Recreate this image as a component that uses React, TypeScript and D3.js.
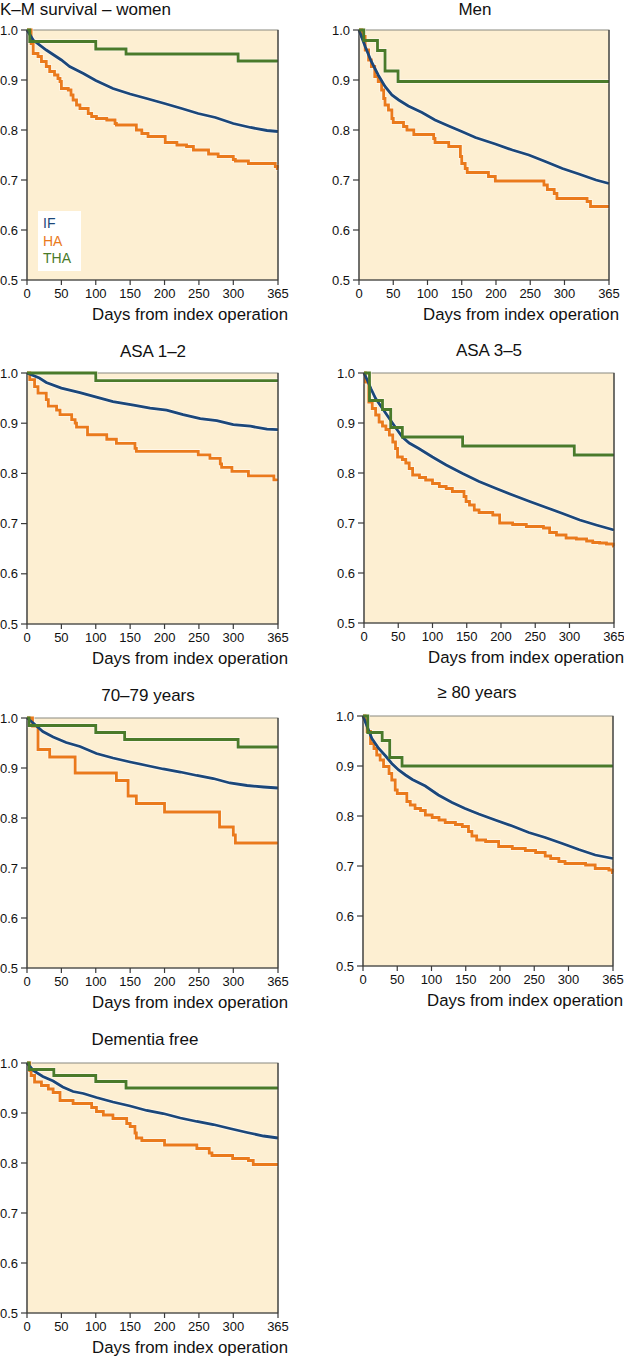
import React from "react";
import * as d3 from "d3";

type Pt = [number, number];

// ---- tick labels ----
const xTicks = [0, 50, 100, 150, 200, 250, 300, 365];
const yTicks = [0.5, 0.6, 0.7, 0.8, 0.9, 1.0];
const seriesNames = ["IF", "HA", "THA"];
const panelTitles = ["K–M survival – women", "Men", "ASA 1–2", "ASA 3–5", "70–79 years", "≥ 80 years", "Dementia free"];
const xAxisTitle = "Days from index operation";

// ---- data: [day, survival] ----
const womenIF: Pt[] = [[0,1],[9,0.98],[28,0.96],[50,0.94],[62,0.927],[82,0.913],[100,0.899],[125,0.883],[150,0.872],[174,0.863],[200,0.853],[225,0.843],[249,0.833],[274,0.825],[300,0.813],[325,0.805],[349,0.799],[365,0.797]];
const womenHA: Pt[] = [[0,1],[6,0.973],[9,0.953],[16,0.947],[21,0.937],[28,0.927],[33,0.917],[40,0.91],[45,0.903],[48,0.897],[50,0.883],[60,0.88],[64,0.87],[67,0.86],[72,0.85],[77,0.843],[89,0.833],[94,0.827],[101,0.823],[116,0.82],[128,0.813],[130,0.81],[159,0.8],[167,0.793],[176,0.787],[201,0.775],[218,0.77],[232,0.767],[242,0.76],[264,0.752],[278,0.747],[300,0.741],[303,0.738],[322,0.733],[361,0.727],[364,0.723],[365,0.723]];
const womenTHA: Pt[] = [[0,1],[4,0.977],[100,0.962],[144,0.952],[307,0.938],[365,0.938]];

const menIF: Pt[] = [[0,1],[9,0.967],[18,0.937],[28,0.91],[38,0.887],[48,0.87],[58,0.86],[72,0.848],[92,0.835],[111,0.82],[131,0.808],[150,0.797],[170,0.785],[199,0.772],[224,0.76],[248,0.75],[272,0.737],[297,0.723],[321,0.712],[346,0.7],[365,0.693]];
const menHA: Pt[] = [[0,1],[4,0.987],[9,0.96],[14,0.94],[18,0.927],[23,0.907],[28,0.897],[33,0.88],[36,0.863],[38,0.85],[43,0.84],[48,0.823],[50,0.815],[65,0.807],[70,0.8],[80,0.791],[109,0.783],[111,0.775],[131,0.767],[148,0.747],[150,0.733],[155,0.723],[158,0.715],[189,0.707],[199,0.698],[270,0.69],[275,0.681],[285,0.673],[289,0.663],[333,0.657],[338,0.647],[365,0.647]];
const menTHA: Pt[] = [[0,1],[7,0.979],[27,0.959],[38,0.918],[57,0.897],[365,0.897]];

const asa12IF: Pt[] = [[0,1],[18,0.99],[28,0.981],[50,0.97],[77,0.961],[101,0.952],[125,0.943],[155,0.936],[179,0.93],[203,0.926],[227,0.917],[252,0.909],[276,0.905],[300,0.897],[325,0.894],[349,0.888],[365,0.887]];
const asa12HA: Pt[] = [[0,1],[4,0.987],[11,0.973],[16,0.96],[28,0.947],[31,0.934],[43,0.926],[48,0.917],[65,0.907],[70,0.9],[72,0.892],[88,0.877],[116,0.868],[130,0.86],[157,0.85],[159,0.844],[249,0.837],[266,0.83],[281,0.819],[283,0.812],[298,0.804],[322,0.795],[359,0.787],[365,0.787]];
const asa12THA: Pt[] = [[0,1],[100,0.985],[365,0.985]];

const asa35IF: Pt[] = [[0,1],[5,0.985],[10,0.969],[17,0.949],[27,0.929],[37,0.909],[46,0.891],[56,0.872],[66,0.86],[80,0.849],[100,0.832],[120,0.816],[144,0.799],[168,0.783],[193,0.769],[217,0.756],[242,0.743],[266,0.731],[290,0.719],[315,0.706],[339,0.696],[365,0.686]];
const asa35HA: Pt[] = [[0,1],[2,0.982],[7,0.942],[12,0.929],[17,0.916],[22,0.902],[27,0.894],[32,0.887],[37,0.876],[42,0.862],[46,0.849],[49,0.832],[56,0.827],[61,0.82],[66,0.809],[71,0.796],[81,0.791],[90,0.786],[100,0.779],[110,0.773],[120,0.769],[129,0.763],[146,0.753],[149,0.743],[154,0.736],[161,0.726],[168,0.721],[188,0.716],[198,0.7],[217,0.697],[237,0.693],[262,0.69],[271,0.681],[281,0.676],[295,0.67],[310,0.668],[325,0.664],[334,0.661],[344,0.66],[354,0.658],[364,0.654],[365,0.654]];
const asa35THA: Pt[] = [[0,1],[8,0.945],[27,0.927],[39,0.891],[56,0.872],[144,0.854],[307,0.836],[365,0.836]];

const age7079IF: Pt[] = [[0,1],[9,0.99],[23,0.973],[38,0.962],[57,0.951],[77,0.943],[101,0.929],[125,0.92],[150,0.912],[174,0.905],[198,0.898],[223,0.892],[247,0.885],[271,0.879],[295,0.87],[320,0.865],[344,0.862],[365,0.86]];
const age7079HA: Pt[] = [[0,1],[8,0.984],[16,0.937],[33,0.922],[70,0.89],[130,0.875],[147,0.844],[159,0.829],[200,0.812],[280,0.782],[300,0.766],[303,0.75],[365,0.75]];
const age7079THA: Pt[] = [[0,1],[3,0.985],[100,0.971],[142,0.957],[307,0.942],[365,0.942]];

const age80IF: Pt[] = [[0,1],[6,0.979],[13,0.955],[23,0.935],[33,0.92],[42,0.905],[52,0.892],[62,0.882],[72,0.873],[91,0.86],[110,0.842],[130,0.827],[149,0.815],[169,0.804],[193,0.792],[218,0.78],[242,0.767],[266,0.757],[291,0.745],[315,0.733],[339,0.722],[365,0.715]];
const age80HA: Pt[] = [[0,1],[3,0.992],[6,0.969],[11,0.945],[16,0.935],[20,0.922],[25,0.912],[30,0.899],[38,0.885],[42,0.872],[47,0.852],[50,0.845],[64,0.829],[69,0.822],[76,0.815],[84,0.811],[91,0.802],[101,0.797],[111,0.792],[120,0.787],[135,0.783],[145,0.779],[154,0.769],[159,0.76],[166,0.752],[179,0.749],[198,0.739],[218,0.735],[237,0.731],[252,0.727],[266,0.72],[274,0.715],[286,0.709],[295,0.705],[325,0.702],[339,0.695],[359,0.692],[364,0.687],[365,0.687]];
const age80THA: Pt[] = [[0,1],[7,0.967],[28,0.951],[39,0.917],[57,0.9],[365,0.9]];

const dementiaIF: Pt[] = [[0,1],[9,0.985],[23,0.973],[38,0.964],[52,0.952],[67,0.943],[82,0.939],[101,0.931],[125,0.922],[150,0.914],[174,0.905],[198,0.899],[223,0.89],[247,0.883],[271,0.877],[295,0.869],[320,0.861],[344,0.854],[365,0.85]];
const dementiaHA: Pt[] = [[0,1],[4,0.985],[6,0.975],[11,0.962],[21,0.955],[31,0.948],[38,0.941],[48,0.925],[67,0.919],[94,0.911],[101,0.903],[111,0.896],[125,0.889],[145,0.879],[150,0.873],[157,0.86],[159,0.85],[167,0.845],[200,0.836],[247,0.829],[265,0.82],[269,0.815],[299,0.809],[322,0.805],[329,0.797],[365,0.797]];
const dementiaTHA: Pt[] = [[0,1],[3,0.987],[39,0.975],[100,0.963],[144,0.95],[365,0.95]];

const COLORS = { IF: "#1b477a", HA: "#ea7a1c", THA: "#4a7a2a" };
const FONT = "'Liberation Sans', Arial, Helvetica, sans-serif";

type PanelSpec = {
  title: string;
  titleX: number; titleY: number; titleAnchor: "start" | "middle";
  L: number; R: number; T: number; B: number;
  IF: Pt[]; HA: Pt[]; THA: Pt[];
  legend?: boolean;
};

const panels: PanelSpec[] = [
  { title: panelTitles[0], titleX: 0, titleY: 15, titleAnchor: "start", L: 27, R: 278, T: 30, B: 280, IF: womenIF, HA: womenHA, THA: womenTHA, legend: true },
  { title: panelTitles[1], titleX: 475, titleY: 15, titleAnchor: "middle", L: 359, R: 609, T: 30, B: 280, IF: menIF, HA: menHA, THA: menTHA },
  { title: panelTitles[2], titleX: 153, titleY: 357, titleAnchor: "middle", L: 27, R: 278, T: 373, B: 624, IF: asa12IF, HA: asa12HA, THA: asa12THA },
  { title: panelTitles[3], titleX: 489, titleY: 356, titleAnchor: "middle", L: 364, R: 614, T: 373, B: 623, IF: asa35IF, HA: asa35HA, THA: asa35THA },
  { title: panelTitles[4], titleX: 148, titleY: 701, titleAnchor: "middle", L: 27, R: 278, T: 718, B: 968, IF: age7079IF, HA: age7079HA, THA: age7079THA },
  { title: panelTitles[5], titleX: 477, titleY: 698, titleAnchor: "middle", L: 363, R: 613, T: 716, B: 966, IF: age80IF, HA: age80HA, THA: age80THA },
  { title: panelTitles[6], titleX: 145, titleY: 1045, titleAnchor: "middle", L: 27, R: 278, T: 1063, B: 1313, IF: dementiaIF, HA: dementiaHA, THA: dementiaTHA },
];

function Panel({ p }: { p: PanelSpec }) {
  const x = d3.scaleLinear().domain([0, 365]).range([p.L, p.R]);
  const y = d3.scaleLinear().domain([0.5, 1.0]).range([p.B, p.T]);
  const smooth = d3.line<Pt>().x(d => x(d[0])).y(d => y(d[1])).curve(d3.curveLinear);
  const step = d3.line<Pt>().x(d => x(d[0])).y(d => y(d[1])).curve(d3.curveStepAfter);
  const series: { key: "IF" | "HA" | "THA"; path: string }[] = [
    { key: "HA", path: step(p.HA) || "" },
    { key: "IF", path: smooth(p.IF) || "" },
    { key: "THA", path: step(p.THA) || "" },
  ];
  return (
    <g>
      <text x={p.titleX} y={p.titleY} textAnchor={p.titleAnchor} fontSize={17} fontFamily={FONT} fill="#111">{p.title}</text>
      <rect x={p.L} y={p.T} width={p.R - p.L} height={p.B - p.T} fill="#FDEFD2" stroke="#8a8a80" strokeWidth={1} />
      {series.map(s => (
        <path key={s.key + "h"} d={s.path} fill="none" stroke="#fffaf0" strokeWidth={4.4} strokeOpacity={0.75} />
      ))}
      {series.map(s => (
        <path key={s.key} d={s.path} fill="none" stroke={COLORS[s.key]} strokeWidth={2.8} />
      ))}
      <line x1={p.L} x2={p.L} y1={p.T} y2={p.B} stroke="#3a3a3a" strokeWidth={1.2} />
      <line x1={p.R} x2={p.R} y1={p.T} y2={p.B} stroke="#3a3a3a" strokeWidth={1.2} />
      <line x1={p.L} x2={p.R} y1={p.B} y2={p.B} stroke="#3a3a3a" strokeWidth={1.2} />
      {yTicks.map(t => (
        <g key={"y" + t}>
          <line x1={p.L - 6} x2={p.L} y1={y(t)} y2={y(t)} stroke="#3a3a3a" strokeWidth={1.2} />
          <text x={p.L - 9} y={y(t) + 4.5} textAnchor="end" fontSize={13} fontFamily={FONT} fill="#111">{t.toFixed(1)}</text>
        </g>
      ))}
      {xTicks.map(t => (
        <g key={"x" + t}>
          <line x1={x(t)} x2={x(t)} y1={p.B} y2={p.B + 5} stroke="#3a3a3a" strokeWidth={1.2} />
          <text x={x(t)} y={p.B + 18} textAnchor="middle" fontSize={13} fontFamily={FONT} fill="#111">{t}</text>
        </g>
      ))}
      <text x={p.R + 10} y={p.B + 40} textAnchor="end" fontSize={16.8} fontFamily={FONT} fill="#111">{xAxisTitle}</text>
      {p.legend && (
        <g>
          <rect x={p.L + 11} y={p.B - 69} width={43} height={60} fill="#ffffff" />
          {seriesNames.map((n, i) => (
            <text key={n} x={p.L + 16} y={p.B - 52 + i * 17.5} fontSize={14} fontFamily={FONT} fill={COLORS[n as "IF" | "HA" | "THA"]}>{n}</text>
          ))}
        </g>
      )}
    </g>
  );
}

export default function App() {
  return (
    <svg width={624} height={1356} viewBox="0 0 624 1356" style={{ position: "absolute", left: 0, top: 0, background: "#fff" }}>
      <rect x={0} y={0} width={624} height={1356} fill="#fff" />
      {panels.map((p, i) => <Panel key={i} p={p} />)}
    </svg>
  );
}
